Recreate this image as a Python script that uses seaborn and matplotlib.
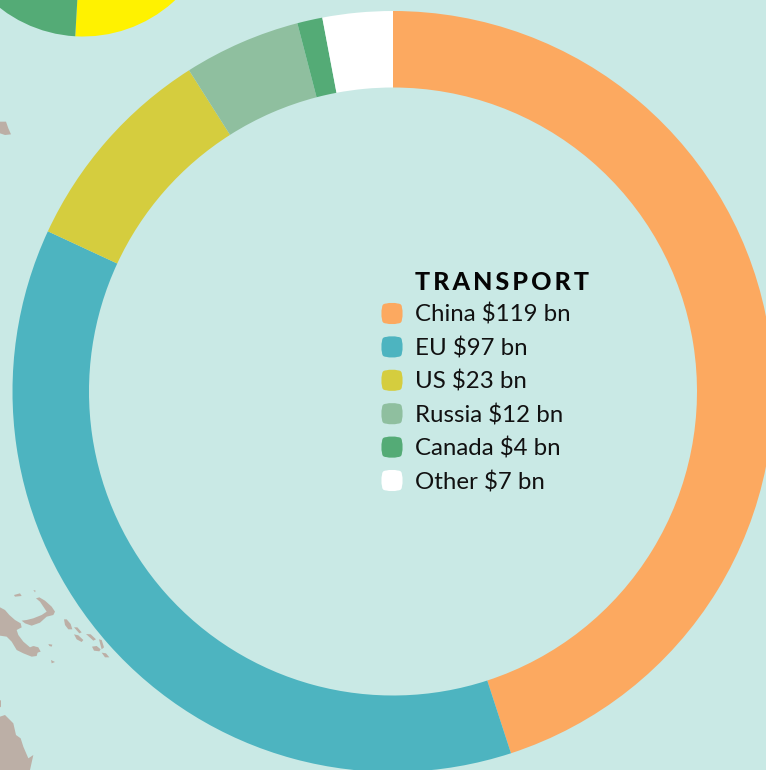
import numpy as np
import pandas as pd
import matplotlib
matplotlib.use("Agg")
import matplotlib.pyplot as plt
from matplotlib.patches import Polygon
from matplotlib.path import Path
import seaborn as sns

categories = ["China", "EU", "US", "Russia", "Canada", "Other"]
values_bn = [119, 97, 23, 12, 4, 7]
ring_values = [117.9, 96.8, 23.8, 13.0, 2.8, 7.8]
colors = ["#FCA960", "#4DB4C0", "#D5CD3E", "#8FBF9F", "#54AB76", "#FFFFFF"]
title = "TRANSPORT"

# neighbouring pie, cut off by the top left corner
corner_values = [50, 50]
corner_colors = ["#FFF200", "#54AB76"]

bg = "#C9E9E5"
land = "#BCAFA6"
H = 770

# map scraps as image pixels
land_bottom = [
    [(0, 112), (15, 120), (28, 135), (45, 150), (62, 160), (65, 172), (50, 180), (55, 195), (70, 215), (90, 232),
     (100, 228), (115, 240), (110, 258), (95, 260), (70, 250), (50, 240), (35, 215), (20, 200), (0, 197)],
    [(0, 440), (15, 435), (40, 460), (48, 495), (62, 505), (70, 530), (85, 565), (100, 555), (90, 600), (0, 600)],
    [(0, 390), (3, 392), (3, 410), (0, 412)],
    [(65, 152), (80, 150), (100, 145), (125, 135), (140, 125), (130, 110), (120, 95), (108, 85), (118, 82), (135, 92),
     (155, 110), (165, 125), (160, 135), (140, 140), (120, 158), (95, 167), (75, 160)],
    [(192, 148), (200, 148), (212, 162), (217, 178), (205, 178), (195, 165)],
    [(222, 172), (232, 172), (245, 187), (238, 190)],
    [(222, 193), (235, 196), (250, 210), (245, 216), (230, 208)],
    [(258, 192), (272, 193), (288, 208), (280, 212)],
    [(297, 208), (305, 210), (312, 232), (305, 238)],
    [(276, 230), (290, 228), (302, 238), (298, 244), (282, 242)],
    [(305, 248), (318, 250), (328, 262), (315, 262)],
    [(145, 222), (157, 224), (155, 230), (148, 228)],
    [(153, 270), (165, 276), (155, 280)],
    [(42, 75), (60, 70), (65, 78), (45, 80)],
    [(100, 60), (107, 62), (105, 67)],
    [(100, 228), (115, 232), (122, 245), (112, 248)],
]
land_top = [[(0, 365), (18, 365), (25, 385), (33, 403), (15, 405), (0, 400)]]

sns.set_theme(style="white")
plt.rcParams["font.family"] = ["Lato", "DejaVu Sans"]

fig = plt.figure(figsize=(7.66, 7.70), dpi=100, facecolor=bg)
ax = fig.add_axes([0, 0, 1, 1], facecolor=bg)

for pts in land_bottom:
    xy = [(x / 3, H - (570 + y / 3)) for x, y in pts]
    ax.add_patch(Polygon(xy, closed=True, fc=land, ec="none", zorder=0))
for pts in land_top:
    xy = [(x / 3, H - y / 3) for x, y in pts]
    ax.add_patch(Polygon(xy, closed=True, fc=land, ec="none", zorder=0))

ax.pie(ring_values, colors=colors, center=(393, H - 391.5), radius=380.5, startangle=90, counterclock=False,
       wedgeprops={"width": 76.5, "linewidth": 0}, frame=True)
ax.pie(corner_values, colors=corner_colors, center=(83, H + 98.5), radius=135, startangle=266.7,
       wedgeprops={"linewidth": 0}, frame=True)

# legend swatches, squares with slightly bulging sides
b = 1.16
c = 0.6
verts = [(-c, -1), (0, -b), (c, -1), (1, -1), (1, -c), (b, 0), (1, c), (1, 1), (c, 1),
         (0, b), (-c, 1), (-1, 1), (-1, c), (-b, 0), (-1, -c), (-1, -1), (-c, -1)]
codes = [Path.MOVETO] + [Path.CURVE3] * 16
swatch = Path(verts, codes)

rows = np.arange(len(categories))
df = pd.DataFrame({"x": 392.0, "y": H - (313.5 + rows * 33.4), "name": categories})
sns.scatterplot(data=df, x="x", y="y", hue="name", palette=colors, marker=swatch, s=275, linewidth=0,
                legend=False, ax=ax, zorder=3)

ax.text(415, H - 282, "\u2009".join(title), fontsize=18, fontweight="black", color="#050505", va="center", ha="left")
for i, (name, v) in enumerate(zip(categories, values_bn)):
    ax.text(415, H - (315 + i * 33.4), f"{name} ${v} bn", fontsize=17.3, color="#111111", va="center", ha="left")

ax.set_xlim(0, 766)
ax.set_ylim(0, H)
ax.set_aspect("equal")
ax.set_xticks([])
ax.set_yticks([])
ax.set_xlabel("")
ax.set_ylabel("")
ax.set_frame_on(False)

fig.savefig("out.png", dpi=100, facecolor=bg)
